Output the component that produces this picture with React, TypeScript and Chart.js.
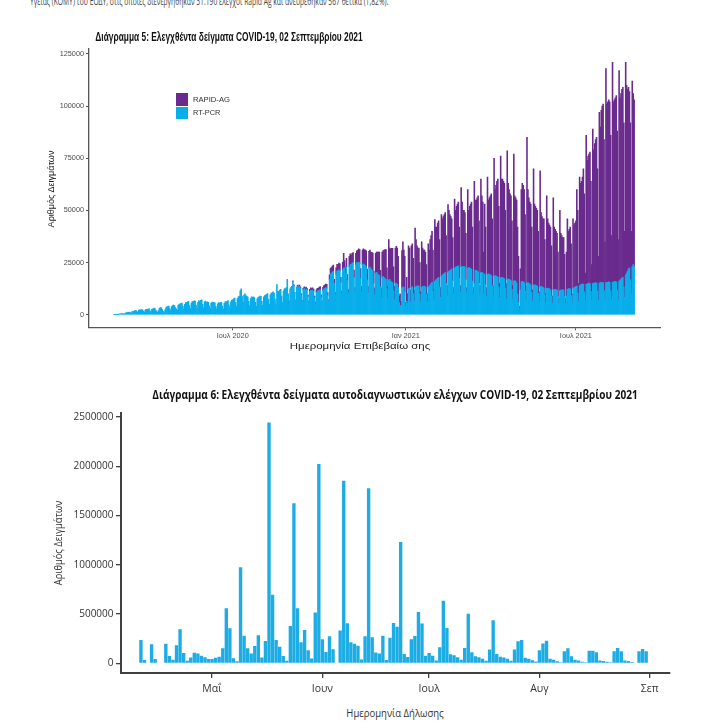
import React, { useEffect, useLayoutEffect, useRef, useState } from "react";
import { Chart, registerables } from "chart.js";

Chart.register(...registerables);

// ---------------- Chart 5 data (daily, thousands of samples) ----------------
// Day 0 = Wed 26 Feb 2020. One row = one week (Wed..Tue).
const rtPcrA = [
  0.1, 0.2, 0.2, 0.2, 0.1, 0.3, 0.4,
  0.4, 0.5, 0.6, 0.5, 0.4, 0.8, 1.0,
  1.0, 1.2, 1.3, 1.0, 0.8, 1.5, 1.7,
  1.8, 2.0, 2.1, 1.6, 1.2, 2.2, 2.4,
  2.3, 2.5, 2.4, 1.8, 1.3, 2.4, 2.6,
  2.5, 2.7, 2.8, 2.0, 1.4, 2.6, 2.9,
  3.0, 3.2, 2.4, 1.8, 1.2, 2.0, 3.1,
  3.4, 3.3, 2.5, 1.6, 1.0, 2.4, 3.5,
  3.8, 4.0, 4.2, 3.0, 2.1, 3.9, 4.4,
  4.6, 4.4, 3.4, 2.8, 2.2, 4.5, 5.0,
  5.2, 5.5, 5.6, 4.0, 2.7, 5.0, 5.8,
  6.0, 6.2, 6.4, 4.4, 3.0, 5.6, 6.3,
  6.5, 6.7, 6.6, 4.6, 3.2, 6.0, 6.8,
  6.4, 6.9, 7.2, 5.0, 3.3, 6.2, 6.6,
  6.0, 6.2, 6.0, 4.3, 3.0, 5.6, 6.1,
  5.8, 6.0, 5.7, 4.0, 2.8, 5.2, 5.9,
  5.6, 5.9, 6.0, 4.2, 2.9, 5.5, 6.2,
  6.3, 6.5, 6.8, 4.8, 3.4, 6.2, 7.0,
];
// from Wed 1 Jul 2020
const rtPcrB = [
  7.2, 7.6, 8.0, 6.0, 4.2, 7.8, 8.6,
  9.0, 11.5, 12.4, 9.0, 6.0, 9.5, 10.0,
  9.2, 8.8, 8.5, 6.4, 4.4, 7.8, 8.6,
  8.4, 8.6, 8.2, 6.0, 4.2, 7.6, 8.4,
  8.6, 9.0, 8.8, 6.5, 4.5, 8.6, 9.2,
  9.4, 9.8, 10.2, 7.4, 5.0, 9.6, 10.4,
  10.6, 11.0, 10.4, 7.6, 5.2, 14.5, 11.2,
  11.2, 11.8, 12.2, 9.0, 6.0, 11.5, 12.4,
  12.6, 13.0, 17.0, 10.0, 6.8, 12.4, 13.2,
  13.4, 16.0, 14.0, 10.4, 7.0, 13.0, 13.8,
  13.2, 13.6, 12.8, 9.6, 6.6, 12.0, 12.6,
  12.0, 12.4, 11.8, 8.8, 6.0, 11.2, 11.8,
  11.6, 11.8, 11.2, 8.2, 5.6, 10.8, 11.4,
  11.4, 11.8, 12.0, 8.6, 6.0, 11.6, 12.4,
  12.6, 13.0, 12.8, 9.4, 6.4, 17.0, 19.5,
  20.0, 20.5, 20.8, 15.0, 9.5, 19.5, 21.0,
  21.2, 21.6, 21.0, 15.5, 10.0, 21.5, 22.4,
  22.6, 20.0, 23.0, 16.5, 10.5, 23.0, 24.0,
];
// from Wed 4 Nov 2020
const rtPcrC = [
  24.2, 24.8, 25.0, 18.0, 11.0, 24.0, 25.0,
  25.0, 25.2, 24.6, 17.5, 11.0, 24.0, 24.4,
  24.0, 23.6, 23.0, 16.5, 10.5, 22.4, 22.8,
  22.0, 21.5, 21.0, 15.0, 9.5, 20.0, 20.4,
  19.6, 19.2, 18.8, 13.5, 8.5, 18.0, 18.4,
  17.8, 17.4, 17.0, 12.5, 7.8, 16.6, 17.0,
  16.2, 15.8, 15.4, 11.4, 7.2, 15.0, 15.2,
  14.6, 13.0, 6.0, 4.0, 4.5, 12.8, 13.4,
  13.2, 11.0, 4.0, 6.5, 5.5, 12.4, 12.8,
  6.0, 13.0, 13.4, 10.0, 6.4, 13.2, 13.6,
  13.8, 14.0, 13.6, 10.0, 6.4, 13.2, 13.6,
  13.6, 13.8, 13.4, 9.8, 6.2, 13.4, 13.8,
  14.4, 15.0, 15.6, 11.6, 7.4, 16.0, 16.6,
  17.0, 17.6, 18.0, 13.4, 8.4, 18.4, 19.0,
  19.4, 19.8, 20.2, 15.0, 9.4, 20.4, 20.8,
  21.2, 21.6, 22.0, 16.4, 10.2, 22.4, 22.8,
  23.0, 23.2, 23.4, 17.4, 10.8, 23.0, 23.2,
];
// from Wed 3 Mar 2021
const rtPcrD = [
  23.0, 23.2, 22.8, 17.0, 10.6, 22.4, 22.6,
  22.4, 22.2, 21.8, 16.2, 10.0, 15.0, 21.4,
  21.2, 21.0, 20.6, 15.2, 9.4, 20.2, 20.4,
  20.0, 10.0, 19.6, 14.6, 9.0, 19.4, 19.6,
  19.4, 19.2, 18.8, 14.0, 8.6, 18.6, 18.8,
  18.6, 18.4, 18.0, 13.4, 8.2, 17.8, 18.0,
  17.8, 17.6, 17.2, 12.8, 7.8, 17.0, 17.2,
  17.0, 16.8, 16.4, 12.2, 7.4, 16.2, 16.4,
  16.0, 15.2, 10.0, 6.0, 2.5, 12.0, 15.8,
  16.0, 15.8, 15.4, 11.4, 7.0, 15.2, 15.4,
  15.0, 14.8, 14.4, 10.8, 6.6, 14.2, 14.4,
  14.2, 14.0, 13.6, 10.2, 6.2, 13.4, 13.6,
  13.4, 13.2, 12.8, 9.6, 5.8, 12.6, 12.8,
  12.6, 12.4, 12.0, 9.0, 5.6, 12.0, 12.2,
  12.2, 12.0, 11.8, 8.8, 5.4, 11.6, 11.8,
  12.0, 12.0, 11.8, 8.8, 5.4, 9.0, 12.2,
  12.4, 12.6, 12.4, 9.2, 5.6, 12.6, 13.0,
  13.2, 13.6, 13.8, 10.4, 6.4, 14.0, 14.4,
  14.6, 14.8, 14.6, 11.0, 6.8, 14.6, 14.8,
  15.0, 15.2, 15.0, 11.2, 7.0, 15.0, 15.2,
  15.2, 15.4, 15.2, 11.4, 7.0, 15.2, 15.4,
  15.4, 15.6, 15.4, 11.6, 7.2, 15.4, 15.6,
  15.6, 15.8, 15.6, 11.6, 7.2, 15.6, 15.8,
  15.8, 16.0, 15.8, 11.8, 7.4, 16.2, 16.6,
  17.0, 17.6, 18.0, 13.4, 8.4, 19.0, 20.0,
  21.0, 22.0, 22.4, 16.8, 10.4, 23.0, 24.0,
  23.0,
];

// RAPID-AG starts at day 189 = Wed 2 Sep 2020
const rapidStartDay = 189;
const rapidAgA = [
  0.2, 0.3, 0.3, 0.2, 0.1, 0.3, 0.4,
  0.5, 0.6, 0.6, 0.4, 0.3, 0.7, 0.8,
  0.8, 0.9, 0.9, 0.6, 0.4, 1.0, 1.1,
  1.0, 1.1, 1.1, 0.8, 0.5, 1.2, 1.3,
  1.3, 1.4, 1.5, 1.0, 0.6, 1.5, 1.6,
  1.6, 1.7, 1.8, 1.2, 0.8, 2.2, 2.8,
  2.6, 2.8, 3.0, 2.0, 1.2, 3.0, 3.2,
  3.0, 3.2, 3.4, 2.4, 1.4, 3.6, 7.0,
  3.4, 3.0, 4.0, 2.8, 1.6, 5.0, 5.2,
  4.4, 4.6, 4.8, 3.4, 2.0, 5.4, 5.6,
  6.0, 6.4, 6.6, 4.6, 2.6, 7.0, 7.2,
  7.2, 7.4, 7.6, 5.4, 3.0, 8.0, 8.2,
  8.0, 8.4, 8.6, 6.0, 3.4, 9.4, 9.6,
  10.4, 10.8, 11.2, 7.8, 4.4, 12.0, 12.4,
  13.2, 13.8, 14.2, 10.0, 5.6, 19.4, 15.0,
  15.4, 16.0, 16.4, 11.6, 6.4, 17.0, 17.6,
  17.4, 15.0, 3.0, 6.0, 2.0, 18.0, 21.6,
  17.8, 17.0, 2.0, 11.5, 4.5, 20.6, 19.2,
];
// from Wed 6 Jan 2021
const rapidAgB = [
  6.0, 20.0, 20.6, 17.0, 5.6, 28.4, 22.4,
  19.2, 18.0, 18.4, 15.0, 4.6, 21.8, 18.4,
  17.4, 17.2, 16.6, 14.2, 3.8, 20.6, 17.2,
  21.6, 23.0, 24.4, 19.4, 4.6, 29.6, 25.4,
  25.0, 26.4, 27.0, 22.6, 4.6, 29.6, 27.0,
  27.6, 28.2, 28.8, 23.0, 4.6, 32.4, 29.2,
  26.8, 25.4, 24.0, 20.6, 2.8, 33.1, 27.2,
  29.0, 29.8, 30.6, 24.6, 3.2, 38.0, 30.8,
  27.0, 26.8, 26.2, 22.0, 2.4, 37.6, 27.4,
  29.6, 30.8, 32.2, 25.8, 3.0, 49.0, 33.6,
  33.8, 35.0, 36.4, 29.8, 4.6, 44.8, 36.6,
  34.0, 20.0, 33.4, 27.4, 4.0, 46.6, 35.4,
  36.6, 37.8, 39.2, 32.0, 5.4, 56.4, 41.2,
  43.4, 45.6, 47.0, 38.6, 6.8, 58.2, 47.0,
  47.2, 46.4, 45.8, 37.2, 7.2, 61.6, 45.8,
  43.0, 41.2, 40.6, 32.8, 6.6, 60.8, 40.6,
  40.0, 39.8, 32.0, 22.0, 1.5, 10.0, 44.2,
];
// from Wed 5 May 2021
const rapidAgC = [
  47.0, 46.2, 44.6, 36.6, 7.0, 69.8, 44.6,
  41.0, 39.2, 38.6, 31.2, 5.4, 55.8, 38.6,
  37.8, 37.0, 36.4, 29.8, 4.8, 55.6, 35.4,
  33.6, 32.8, 33.2, 26.4, 4.2, 44.4, 33.2,
  31.4, 30.6, 30.0, 24.0, 3.4, 44.0, 29.8,
  28.8, 28.0, 27.2, 21.2, 2.6, 38.4, 27.2,
  26.0, 25.0, 25.2, 20.2, 2.6, 21.0, 33.8,
  27.6, 28.4, 29.6, 24.8, 4.4, 33.4, 30.0,
  30.8, 31.4, 46.2, 39.6, 8.6, 52.0, 48.6,
  49.4, 51.2, 55.4, 47.0, 13.2, 71.4, 59.2,
  61.0, 61.8, 63.0, 52.8, 17.0, 74.0, 63.8,
  66.8, 68.6, 69.8, 58.6, 21.0, 81.8, 74.6,
  82.6, 84.4, 85.6, 72.4, 27.8, 102.6, 85.4,
  86.4, 87.2, 86.4, 74.4, 30.8, 105.4, 86.2,
  87.2, 88.0, 89.2, 76.2, 28.6, 100.8, 87.4,
  89.0, 90.4, 91.0, 78.6, 31.6, 102.0, 90.0,
  87.0, 87.0, 84.6, 75.2, 29.6, 89.0, 82.0,
  80.0,
];

const rtPcrDaily = [...rtPcrA, ...rtPcrB, ...rtPcrC, ...rtPcrD];
const rapidAgDaily = [...rapidAgA, ...rapidAgB, ...rapidAgC];

const xTickDays1 = [126, 310, 491];
const xTickLabels1 = ["Ιουλ 2020", "Ιαν 2021", "Ιουλ 2021"];
const yTicks1 = [0, 25000, 50000, 75000, 100000, 125000];

// ---------------- Chart 6 data (daily, thousands of self-tests) ----------------
// Day 0 = 11 Apr 2021
const selfTests = [
  237, 34, 7, 193, 44, 0, 0, 200, 74, 37,
  183, 345, 105, 27, 58, 108, 100, 78, 61, 44,
  44, 57, 68, 152, 558, 355, 51, 20, 975, 280,
  152, 100, 176, 284, 58, 227, 2443, 697, 237, 169,
  74, 27, 379, 1624, 558, 213, 338, 134, 48, 516,
  2022, 244, 114, 276, 144, 0, 332, 1852, 406, 214,
  200, 178, 40, 276, 1777, 264, 110, 100, 280, 34,
  260, 410, 372, 1232, 95, 64, 244, 277, 521, 403,
  78, 105, 78, 30, 162, 636, 359, 91, 81, 61,
  37, 156, 504, 112, 73, 61, 47, 27, 140, 437,
  95, 66, 59, 46, 26, 140, 225, 236, 56, 46,
  32, 18, 134, 202, 229, 46, 37, 20, 10, 122,
  152, 71, 37, 30, 17, 10, 129, 129, 112, 30,
  24, 17, 10, 122, 156, 122, 30, 24, 14, 7,
  122, 146, 122,
];
const xTickDays2 = [20, 51, 81, 112, 143];
const xTickLabels2 = ["Μαΐ", "Ιουν", "Ιουλ", "Αυγ", "Σεπ"];
const yTicks2 = [0, 500000, 1000000, 1500000, 2000000, 2500000];

const K = 1000;
const PURPLE = "#6A2B8E";
const BLUE1 = "#08AEEA";
const BLUE2 = "#1DADE4";
const SANS1 = '"Liberation Sans", Arial, sans-serif';
const SANS2 = '"Open Sans", "Noto Sans", sans-serif';

function chart1Config(): any {
  const pcr = rtPcrDaily.map((v, i) => ({ x: i, y: v * K }));
  const rapid = rapidAgDaily.map((v, i) => ({ x: rapidStartDay + i, y: v * K }));
  return {
    type: "bar",
    data: {
      datasets: [
        { label: "RT-PCR", data: pcr, backgroundColor: BLUE1, borderWidth: 0, barPercentage: 1, categoryPercentage: 1 },
        { label: "RAPID-AG", data: rapid, backgroundColor: PURPLE, borderWidth: 0, barPercentage: 1, categoryPercentage: 1 },
      ],
    },
    options: {
      animation: false,
      responsive: false,
      maintainAspectRatio: false,
      layout: { padding: { top: 10.3, right: 53, bottom: 0, left: 0 } },
      plugins: { legend: { display: false }, tooltip: { enabled: false }, title: { display: false } },
      scales: {
        x: {
          type: "linear",
          stacked: true,
          offset: false,
          min: -26.9,
          max: 580.5,
          afterBuildTicks: (s: any) => { s.ticks = xTickDays1.map((v) => ({ value: v })); },
          afterFit: (s: any) => { s.height = 20.7; },
          ticks: {
            autoSkip: false, maxRotation: 0, padding: 1, color: "#4d4d4d",
            font: { family: SANS1, size: 7.3 },
            callback: (v: any) => { const i = xTickDays1.indexOf(v); return i >= 0 ? xTickLabels1[i] : ""; },
          },
          grid: { offset: false, drawOnChartArea: false, drawTicks: true, tickLength: 3, color: "#555" },
          border: { display: true, color: "#555", width: 1.3 },
        },
        y: {
          type: "linear",
          stacked: true,
          min: -6000,
          max: 127700,
          afterBuildTicks: (s: any) => { s.ticks = yTicks1.map((v) => ({ value: v })); },
          afterFit: (s: any) => { s.width = 89; },
          ticks: { padding: 2, color: "#4d4d4d", font: { family: SANS1, size: 7.3 }, callback: (v: any) => String(v) },
          grid: { offset: false, drawOnChartArea: false, drawTicks: true, tickLength: 3, color: "#555" },
          border: { display: true, color: "#555", width: 1.3 },
        },
      },
    },
  };
}

function chart2Config(): any {
  const pts = selfTests.map((v, i) => ({ x: i, y: v * K }));
  return {
    type: "bar",
    data: {
      datasets: [
        { label: "Αυτοδιαγνωστικά", data: pts, backgroundColor: BLUE2, borderWidth: 0, barPercentage: 0.95, categoryPercentage: 1 },
      ],
    },
    options: {
      animation: false,
      responsive: false,
      maintainAspectRatio: false,
      layout: { padding: { top: 13.3, right: 43, bottom: 0, left: 0 } },
      plugins: { legend: { display: false }, tooltip: { enabled: false }, title: { display: false } },
      scales: {
        x: {
          type: "linear",
          offset: false,
          min: -5.6,
          max: 148.7,
          afterBuildTicks: (s: any) => { s.ticks = xTickDays2.map((v) => ({ value: v })); },
          afterFit: (s: any) => { s.height = 27; },
          ticks: {
            autoSkip: false, maxRotation: 0, padding: 5, color: "#333",
            font: { family: SANS2, size: 10.5 },
            callback: (v: any) => { const i = xTickDays2.indexOf(v); return i >= 0 ? xTickLabels2[i] : ""; },
          },
          grid: { offset: false, drawOnChartArea: false, drawTicks: true, tickLength: 5, color: "#404040", lineWidth: 1.3 },
          border: { display: true, color: "#404040", width: 2 },
        },
        y: {
          type: "linear",
          min: -98000,
          max: 2537000,
          afterBuildTicks: (s: any) => { s.ticks = yTicks2.map((v) => ({ value: v })); },
          afterFit: (s: any) => { s.width = 121; },
          ticks: { padding: 2.5, color: "#333", font: { family: SANS2, size: 10 }, callback: (v: any) => String(v) },
          grid: { offset: false, drawOnChartArea: false, drawTicks: true, tickLength: 5, color: "#404040", lineWidth: 1.3 },
          border: { display: true, color: "#404040", width: 2 },
        },
      },
    },
  };
}

function ChartCanvas({ make, left, top, width, height }: { make: () => any; left: number; top: number; width: number; height: number }) {
  const ref = useRef<HTMLCanvasElement>(null);
  useEffect(() => {
    const chart = new Chart(ref.current as HTMLCanvasElement, make());
    return () => chart.destroy();
  }, []);
  return (
    <canvas ref={ref} width={width} height={height}
      style={{ position: "absolute", left, top, width, height, display: "block" }} />
  );
}

type FitProps = {
  text: string; x: number; y: number; w: number;
  family: string; size: number; weight?: number; color: string;
  align?: "center" | "left"; rotate?: boolean;
};

function FitText({ text, x, y, w, family, size, weight = 400, color, align = "center", rotate = false }: FitProps) {
  const ref = useRef<HTMLSpanElement>(null);
  const [scale, setScale] = useState(1);
  useLayoutEffect(() => {
    const measure = () => {
      const el = ref.current;
      if (el && el.offsetWidth > 0) setScale(w / el.offsetWidth);
    };
    measure();
    const f = (document as any).fonts;
    if (f && f.ready) f.ready.then(measure);
  }, [text, w, family, size, weight]);
  let transform: string;
  let origin: string;
  if (rotate) {
    transform = `translate(-50%, -50%) rotate(-90deg) scaleX(${scale})`;
    origin = "50% 50%";
  } else if (align === "left") {
    transform = `translateY(-50%) scaleX(${scale})`;
    origin = "0 50%";
  } else {
    transform = `translate(-50%, -50%) scaleX(${scale})`;
    origin = "50% 50%";
  }
  return (
    <span ref={ref} style={{
      position: "absolute", left: x, top: y, fontFamily: family, fontSize: size, fontWeight: weight,
      color, whiteSpace: "nowrap", lineHeight: 1, display: "inline-block", transform, transformOrigin: origin,
    }}>{text}</span>
  );
}

export default function App() {
  return (
    <div style={{ position: "absolute", left: 0, top: 0, width: 713, height: 728, overflow: "hidden", background: "#fff" }}>
      <ChartCanvas make={chart1Config} left={0} top={38} width={713} height={310} />
      <ChartCanvas make={chart2Config} left={0} top={400} width={713} height={300} />

      <FitText text="Υγείας (ΚΟΜΥ) του ΕΟΔΥ, στις οποίες διενεργήθηκαν 31.190 έλεγχοι Rapid Ag και ανευρέθηκαν 567 θετικά (1,82%)."
        x={30} y={0.5} w={358} family={SANS2} size={10} color="#444" align="left" />

      <FitText text="Διάγραμμα 5: Ελεγχθέντα δείγματα COVID-19, 02 Σεπτεμβρίου 2021"
        x={228.5} y={37} w={267} family={SANS1} size={12.5} weight={700} color="#111" />
      <div style={{ position: "absolute", left: 176, top: 93.3, width: 11.7, height: 12.4, background: PURPLE }} />
      <div style={{ position: "absolute", left: 176, top: 106.7, width: 11.7, height: 12.3, background: BLUE1 }} />
      <FitText text="RAPID-AG" x={193.3} y={100} w={36.7} family={SANS1} size={7.5} color="#333" align="left" />
      <FitText text="RT-PCR" x={193.3} y={113} w={27.7} family={SANS1} size={7.5} color="#333" align="left" />
      <FitText text="Αριθμός Δειγμάτων" x={51} y={188.5} w={77} family={SANS1} size={9.5} color="#222" rotate />
      <FitText text="Ημερομηνία Επιβεβαίω σης" x={359.5} y={346} w={141} family={SANS1} size={9.5} color="#222" />

      <FitText text="Διάγραμμα 6: Ελεγχθέντα δείγματα αυτοδιαγνωστικών ελέγχων COVID-19, 02 Σεπτεμβρίου 2021"
        x={395.2} y={395} w={485} family={SANS2} size={11.5} weight={700} color="#111" />
      <FitText text="Αριθμός Δειγμάτων" x={58} y={542.5} w={85} family={SANS2} size={10} color="#333" rotate />
      <FitText text="Ημερομηνία Δήλωσης" x={395} y={713} w={97} family={SANS2} size={10} color="#333" />
    </div>
  );
}
